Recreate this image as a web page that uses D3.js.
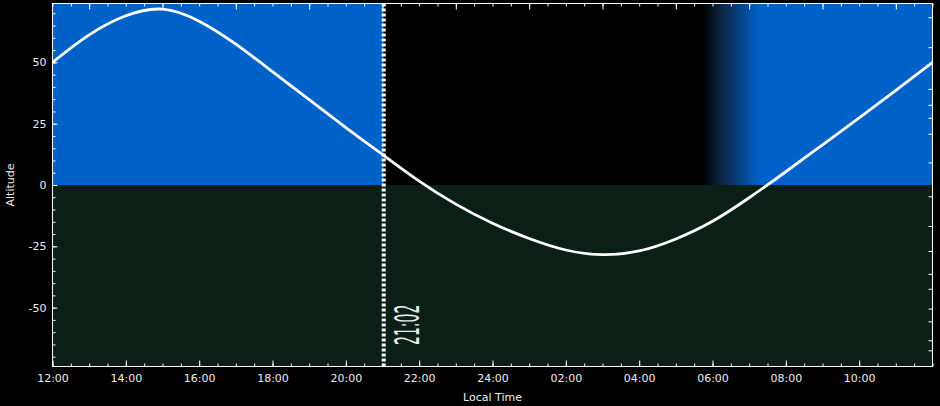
<!DOCTYPE html>
<html>
<head>
<meta charset="utf-8">
<script src="https://cdn.jsdelivr.net/npm/d3@7"></script>
<style>
  body { margin: 0; background: #000; }
  svg text { font-family: "DejaVu Sans", Verdana, sans-serif; fill: #ececec; }
</style>
</head>
<body>
<svg id="chart"></svg>
<script>
// altitude of the object
const times = ["12:00", "13:00", "14:00", "15:00", "16:00", "17:00", "18:00", "19:00",
               "20:00", "21:00", "22:00", "23:00", "24:00", "01:00", "02:00", "03:00",
               "04:00", "05:00", "06:00", "07:00", "08:00", "09:00", "10:00", "11:00", "12:00"];
const altitudes = [50.0, 61.2, 69.0, 71.7, 66.8, 57.4, 46.2, 34.8,
                   23.4, 12.4, 1.6, -7.8, -15.6, -21.8, -26.5, -28.4,
                   -26.9, -22.0, -14.8, -5.2, 5.4, 16.4, 27.4, 38.6, 50.0];

// sky above the horizon
const bandStarts = ["12:00", "21:02", "05:44", "07:17"];
const bandEnds   = ["21:02", "05:44", "07:17", "12:00"];
const bandKinds  = ["day", "night", "dawn", "day"];

const nowTime = "21:02";

const xTickLabels = ["12:00", "14:00", "16:00", "18:00", "20:00", "22:00",
                     "24:00", "02:00", "04:00", "06:00", "08:00", "10:00"];
const yTickValues = [-50, -25, 0, 25, 50];
const rightTickValues = [68.4, 56.2, 39.2, 32.7, 27.4, 20.9, 9.2, -4.6, -16.7,
                         -26.9, -36.2, -42.3, -50.4, -55.6, -63.3, -67.4];

const W = 940, H = 406;
const plotL = 52.5, plotR = 932.5, plotT = 3.5, plotB = 366.5;

const BLUE = "#0062c9", GROUND = "#0c1f16";

// "HH:MM" -> hours since 12:00, kept increasing along a list
const toHours = (s) => {
  const [h, m] = s.split(":").map(Number);
  return ((h + m / 60 - 12) % 24 + 24) % 24;
};
const unroll = (list) => {
  let prev = -1;
  return list.map(s => {
    let v = toHours(s);
    while (v < prev) v += 24;
    prev = v;
    return v;
  });
};

const x = d3.scaleLinear().domain([0, 24]).range([plotL, plotR]);
const y = d3.scaleLinear().domain([-74, 74]).range([plotB, plotT]);

const svg = d3.select("#chart").attr("width", W).attr("height", H);

const defs = svg.append("defs");

const starts = unroll(bandStarts);
const ends = unroll(bandEnds).map((v, i) => Math.max(v, starts[i]));
const bands = bandKinds.map((k, i) => ({kind: k, from: starts[i], to: ends[i]}));

const dawn = bands.find(b => b.kind === "dawn");
const grad = defs.append("linearGradient")
    .attr("id", "dawn")
    .attr("gradientUnits", "userSpaceOnUse")
    .attr("x1", x(dawn.from)).attr("x2", x(dawn.to))
    .attr("y1", 0).attr("y2", 0);
grad.append("stop").attr("offset", 0).attr("stop-color", "#000");
grad.append("stop").attr("offset", 0.35).attr("stop-color", "#0d2748");
grad.append("stop").attr("offset", 1).attr("stop-color", BLUE);

const fillOf = (k) => k === "day" ? BLUE : k === "night" ? "#000" : "url(#dawn)";

// sky
svg.append("g").selectAll("rect")
  .data(bands)
  .enter().append("rect")
    .attr("x", d => x(d.from))
    .attr("y", y(74))
    .attr("width", d => x(d.to) - x(d.from) + 0.5)
    .attr("height", y(0) - y(74))
    .attr("fill", d => fillOf(d.kind));

// ground
svg.append("rect")
    .attr("x", x(0)).attr("y", y(0))
    .attr("width", x(24) - x(0))
    .attr("height", y(-74) - y(0))
    .attr("fill", GROUND);

// altitude curve
const hrs = unroll(times);
const points = hrs.map((h, i) => ({h: h, alt: altitudes[i]}));

svg.append("path")
    .datum(points)
    .attr("fill", "none")
    .attr("stroke", "#fff")
    .attr("stroke-width", 2.8)
    .attr("d", d3.line().curve(d3.curveNatural)
      .x(d => x(d.h)).y(d => y(d.alt)));

// now line
const now = toHours(nowTime);
svg.append("line")
    .attr("x1", x(now)).attr("x2", x(now))
    .attr("y1", plotT).attr("y2", plotB)
    .attr("stroke", "#fff")
    .attr("stroke-width", 4)
    .attr("stroke-dasharray", "3,2");

svg.append("text")
    .attr("transform", "translate(" + (x(now) + 35) + "," + 345 + ") rotate(-90) scale(1,2.4)")
    .style("font-size", "14px")
    .style("text-anchor", "start")
    .text(nowTime);

// axes, ticks pointing inward
const noDomain = g => g.select(".domain").remove();
const tickColor = g => g.selectAll("line").attr("stroke", "#fff");

const halfHours = d3.range(0, 24.001, 0.5);

svg.append("g")
    .attr("transform", "translate(0," + plotB + ")")
    .call(d3.axisBottom(x).tickValues(halfHours).tickSize(-3).tickFormat(""))
    .call(noDomain).call(tickColor);

svg.append("g")
    .attr("transform", "translate(0," + plotB + ")")
    .call(d3.axisBottom(x).tickValues(unroll(xTickLabels)).tickSize(-6).tickPadding(8)
      .tickFormat((d, i) => xTickLabels[i]))
    .call(noDomain).call(tickColor)
    .selectAll("text").style("font-size", "11px").attr("fill", null);

svg.append("g")
    .attr("transform", "translate(0," + plotT + ")")
    .call(d3.axisTop(x).tickValues(halfHours).tickSize(-3).tickFormat(""))
    .call(noDomain).call(tickColor);

svg.append("g")
    .attr("transform", "translate(0," + plotT + ")")
    .call(d3.axisTop(x).tickValues(d3.range(1, 24, 2)).tickSize(-6).tickFormat(""))
    .call(noDomain).call(tickColor);

svg.append("g")
    .attr("transform", "translate(" + plotL + ",0)")
    .call(d3.axisLeft(y).tickValues(d3.range(-70, 71, 5)).tickSize(-3).tickFormat(""))
    .call(noDomain).call(tickColor);

svg.append("g")
    .attr("transform", "translate(" + plotL + ",0)")
    .call(d3.axisLeft(y).tickValues(yTickValues).tickSize(-5).tickPadding(6)
      .tickFormat(d => String(d)))
    .call(noDomain).call(tickColor)
    .selectAll("text").style("font-size", "11px").attr("fill", null);

svg.append("g")
    .attr("transform", "translate(" + plotR + ",0)")
    .call(d3.axisRight(y).tickValues(rightTickValues).tickSize(-4).tickFormat(""))
    .call(noDomain).call(tickColor);

// frame
svg.append("rect")
    .attr("x", plotL).attr("y", plotT)
    .attr("width", plotR - plotL).attr("height", plotB - plotT)
    .attr("fill", "none")
    .attr("stroke", "#fff")
    .attr("stroke-width", 1);

// axis titles
svg.append("text")
    .attr("x", (plotL + plotR) / 2)
    .attr("y", 401)
    .style("font-size", "11px")
    .style("text-anchor", "middle")
    .text("Local Time");

svg.append("text")
    .attr("transform", "translate(14," + (plotT + plotB) / 2 + ") rotate(-90)")
    .style("font-size", "11px")
    .style("text-anchor", "middle")
    .text("Altitude");
</script>
</body>
</html>
